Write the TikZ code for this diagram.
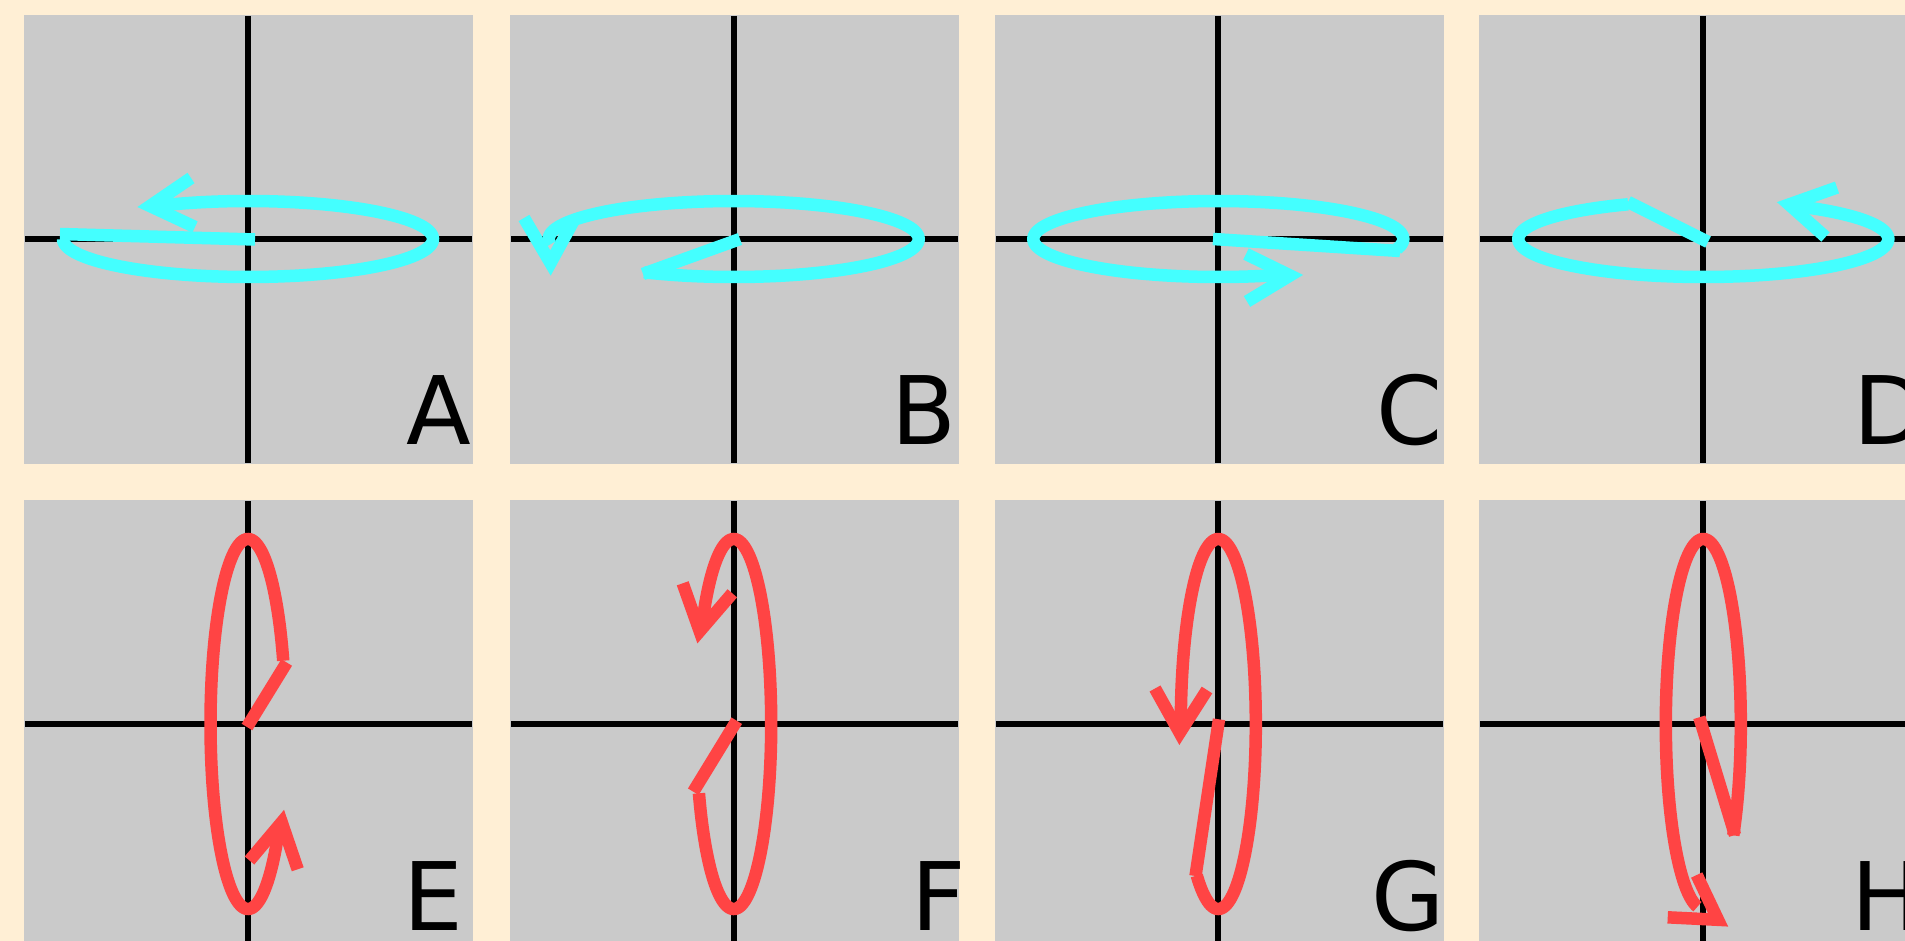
\documentclass[tikz,border=0pt]{standalone}
\usepackage{fontspec}
\setmainfont{DejaVu Sans}
\definecolor{bgbeige}{RGB}{255,239,213}
\definecolor{panelgray}{RGB}{202,202,202}
\definecolor{cyanc}{RGB}{68,255,255}
\definecolor{redc}{RGB}{255,68,68}
\begin{document}
\begin{tikzpicture}[x=0.5pt,y=-0.5pt,
  axisline/.style={line width=3pt,black},
  hcurve/.style={line width=6.25pt,cyanc,line cap=butt},
  vcurve/.style={line width=6.25pt,redc,line cap=butt},
  headv/.style={line join=miter,miter limit=10},
  lbl/.style={inner sep=0pt,anchor=base west,font=\fontsize{47.3pt}{50pt}\selectfont}]
\useasboundingbox (0,0) rectangle (1905,941);
\fill[bgbeige] (0,0) rectangle (1905,941);
\clip (0,0) rectangle (1905,941);
% panels and axes
\foreach \px/\cx in {24/248,510/733.7,995/1218.3,1479/1703.3} {
  \foreach \py/\cy in {15/239,500/724} {
    \fill[panelgray] (\px,\py) rectangle ++(449,449);
    \draw[axisline] (\px+1,\cy) -- (\px+448,\cy);
    \draw[axisline] (\cx,\py+1) -- (\cx,\py+448);
  }
}
% ---------- A ----------
\draw[hcurve] (255,239.5) -- (60,234);
\draw[hcurve] plot[domain=-122:180,samples=150] ({248+185*cos(\x)},{239+38*sin(\x)});
\draw[hcurve,headv] (191,178) -- (150,206) -- (195,227);
\node[lbl] (labA) at (406.5,444) {A};
% ---------- B ----------
\draw[hcurve] (740,239) -- (643,274);
\draw[hcurve] plot[domain=-188:119,samples=150] ({733.7+185*cos(\x)},{239+38*sin(\x)});
\draw[hcurve,headv] (524,218) -- (550.5,263) -- (574,220);
\node[lbl] (labB) at (891.4,444) {B};
% ---------- C ----------
\draw[hcurve] (1213,239) -- (1400,251);
\draw[hcurve] plot[domain=-290:15,samples=150] ({1218.3+185*cos(\x)},{239+38*sin(\x)});
\draw[hcurve,headv] (1246,254) -- (1290,275.5) -- (1247,301.5);
\node[lbl] (labC) at (1375.7,444) {C};
% ---------- D ----------
\draw[hcurve] (1708,242) -- (1628,202);
\draw[hcurve] plot[domain=-421:-114,samples=150] ({1703.3+185*cos(\x)},{239+38*sin(\x)});
\draw[hcurve,headv] (1837,187.5) -- (1789,204.5) -- (1825.5,237);
\node[lbl] (labD) at (1853.4,444) {D};
% ---------- E ----------
\draw[vcurve] (247,727) -- (286.7,662.5);
\draw[vcurve] plot[domain=-326:-20,samples=150] ({248+37.5*cos(\x)},{724+185*sin(\x)});
\draw[vcurve,headv] (249.5,860.5) -- (281.7,822.3) -- (297.7,869.3);
\node[lbl] (labE) at (403.4,930) {E};
% ---------- F ----------
\draw[vcurve] (736.7,720.7) -- (693.3,791.7);
\draw[vcurve] plot[domain=-148:158,samples=150] ({733.7+37.5*cos(\x)},{724+185*sin(\x)});
\draw[vcurve,headv] (682.7,583.3) -- (699.7,631.2) -- (732.3,593.3);
\node[lbl] (labF) at (911.4,930) {F};
% ---------- G ----------
\draw[vcurve] (1219,719.3) -- (1195.5,876);
\draw[vcurve] plot[domain=-182:125,samples=150] ({1218.3+37.5*cos(\x)},{724+185*sin(\x)});
\draw[vcurve,headv] (1155,688.5) -- (1179.7,732.8) -- (1207,690);
\node[lbl] (labG) at (1370.7,930) {G};
% ---------- H ----------
\draw[vcurve] (1699.3,717.3) -- (1735,835);
\draw[vcurve] plot[domain=-261:37,samples=150] ({1703.3+37.5*cos(\x)},{724+185*sin(\x)});
\draw[vcurve,headv] (1696.7,875) -- (1718,919.8) -- (1667.7,917.3);
\node[lbl] (labH) at (1850.7,930) {H};
\end{tikzpicture}
\end{document}
